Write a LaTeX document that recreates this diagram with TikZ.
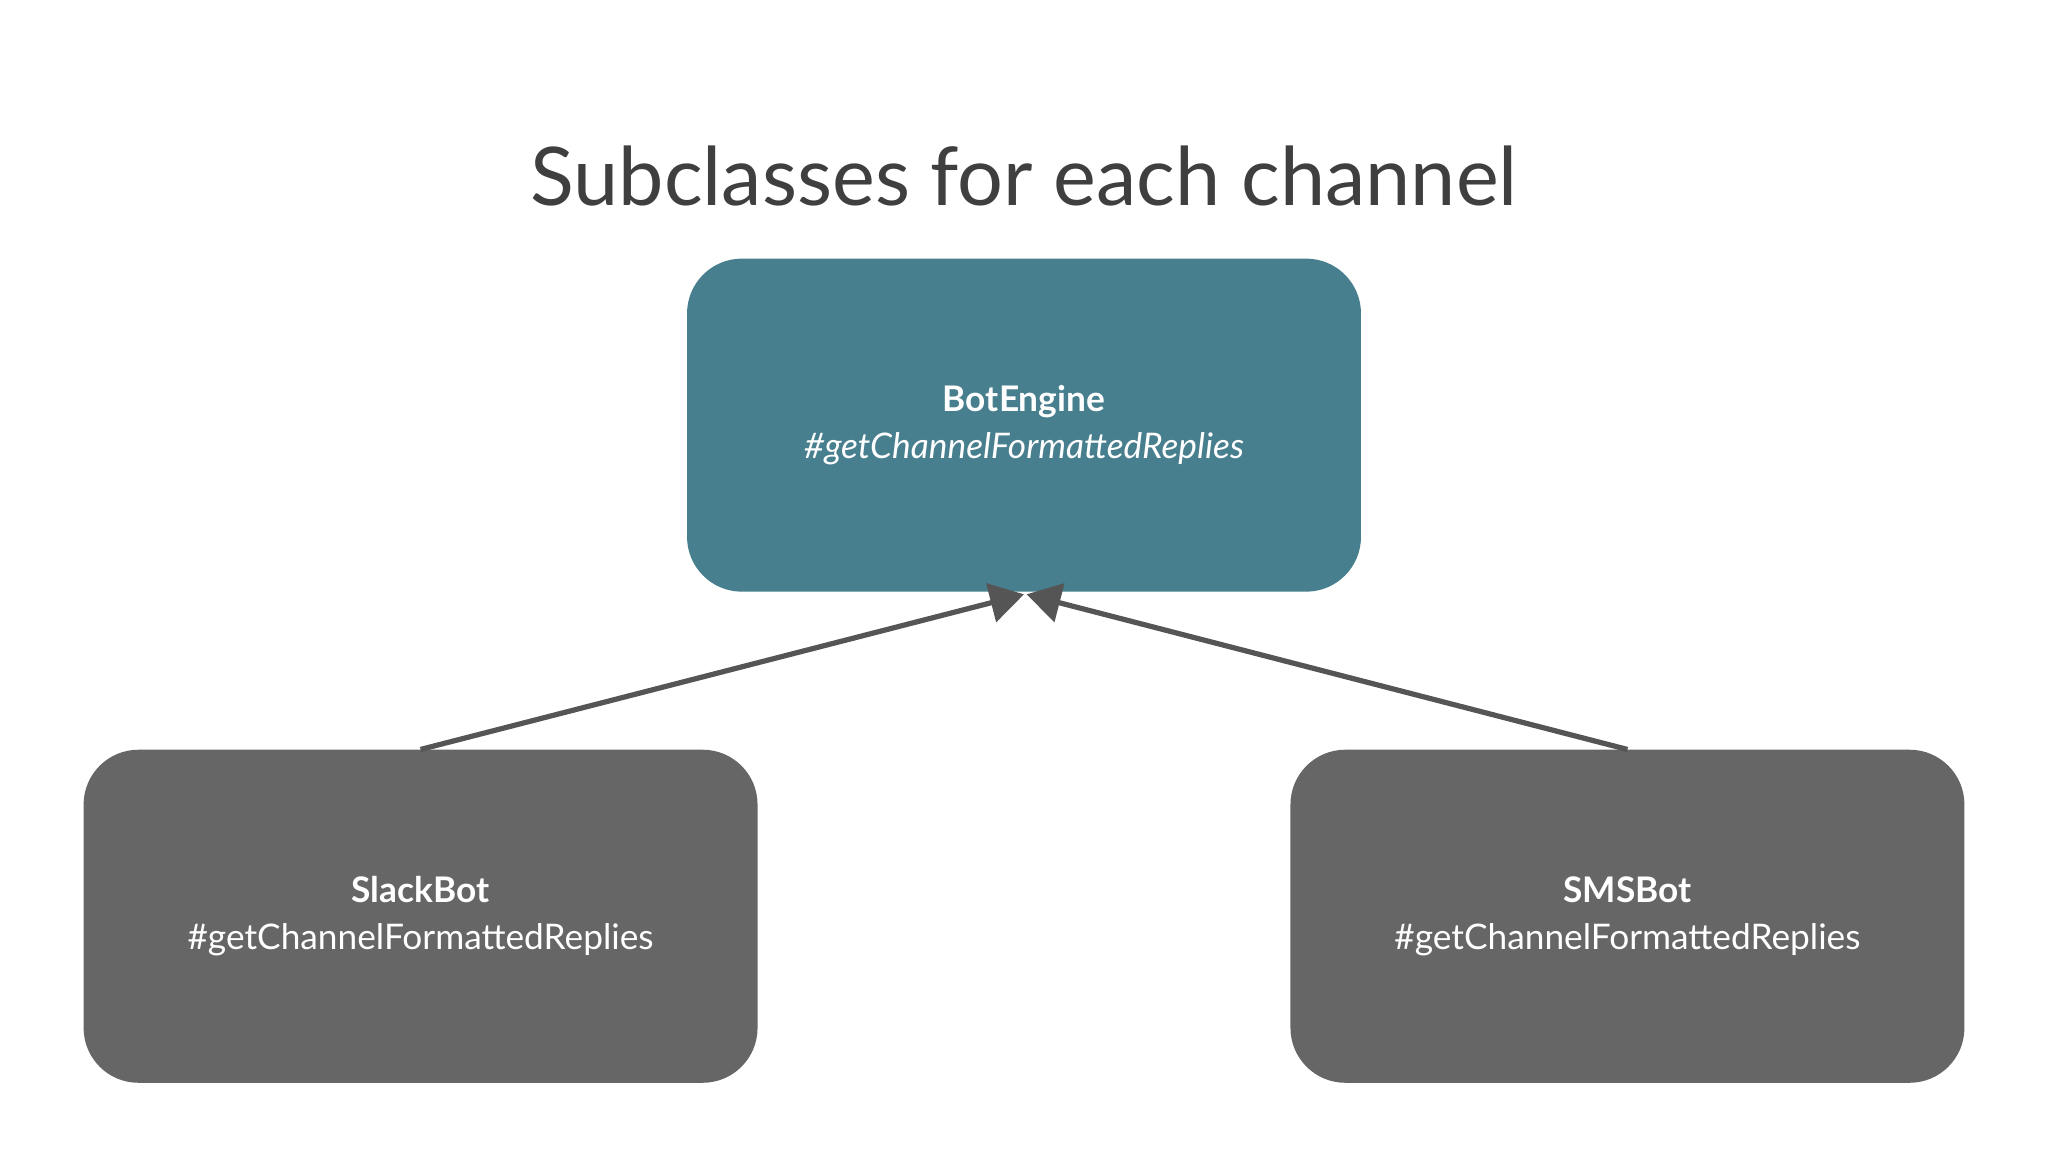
\documentclass[tikz,border=0pt]{standalone}
\usepackage{fontspec}
\setmainfont{Lato}
\usetikzlibrary{arrows.meta}
\definecolor{teal}{HTML}{477F8E}
\definecolor{boxgray}{HTML}{666666}
\definecolor{linegray}{HTML}{555555}
\definecolor{titlegray}{HTML}{3F3F3F}
\begin{document}
\begin{tikzpicture}[x=1pt,y=-1pt,
  box/.style={rounded corners=42pt,minimum width=516pt,minimum height=255pt,draw=none,text=white,align=center,font=\fontsize{27}{36}\selectfont},
  arr/.style={draw=linegray,line width=4pt,-{Triangle[length=26pt,width=30pt]}}]
\useasboundingbox (0,0) rectangle (1568,882);
\node[text=titlegray,font=\fontsize{62}{70}\selectfont] (title) at (784,135) {Subclasses for each channel};
\node[box,fill=teal] (be) at (784,325.5) {\textbf{BotEngine}\\\textit{\#getChannelFormattedReplies}};
\node[box,fill=boxgray] (sb) at (322,701.5) {\textbf{SlackBot}\\\#getChannelFormattedReplies};
\node[box,fill=boxgray] (sm) at (1246,701.5) {\textbf{SMSBot}\\\#getChannelFormattedReplies};
\coordinate (t1) at (784,455);
\coordinate (t2) at (786,455);
\draw[arr] (sb.north) -- (t1);
\draw[arr] (sm.north) -- (t2);
\end{tikzpicture}
\end{document}
